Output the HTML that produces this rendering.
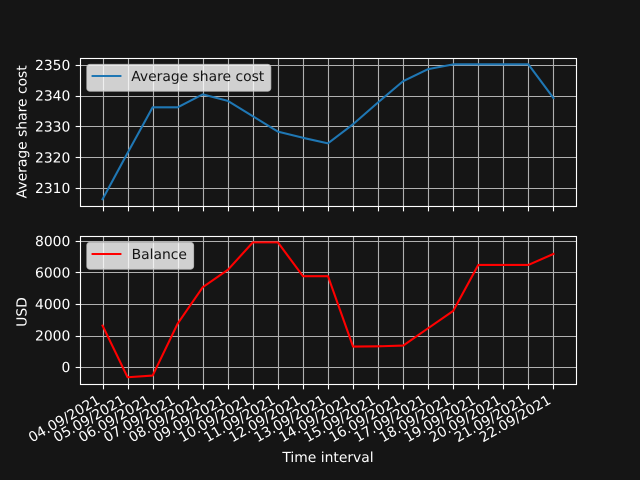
<!DOCTYPE html>
<html>
<head>
<meta charset="utf-8">
<title>Average share cost and balance</title>
<style>
html,body{margin:0;padding:0;background:#151515;}
svg{display:block;font-family:"DejaVu Sans",sans-serif;text-rendering:geometricPrecision;}
text{font-size:13.89px;fill:#fff;}
.legend-text{fill:#151515;}
</style>
</head>
<body>
<svg id="chart" width="640" height="480" viewBox="0 0 640 480" xmlns="http://www.w3.org/2000/svg">
  <rect width="640" height="480" fill="#151515"/>
  <g id="grid-layer"></g>
  <g id="series-layer"></g>
  <g id="tick-layer"></g>
  <g id="label-layer"></g>
  <g id="spine-layer"></g>

  <g>
    <rect x="87" y="64.6" width="183.6" height="26.4" rx="2.8" ry="2.8" fill="#fff" fill-opacity="0.8" stroke="#ccc" stroke-opacity="0.8" stroke-width="1.39"/>
    <line x1="92.6" y1="76" x2="120.4" y2="76" stroke="#1f77b4" stroke-width="2.08" stroke-linecap="square"/>
    <text class="legend-text" x="131.2" y="81">Average share cost</text>
  </g>
  <g>
    <rect x="87" y="242.6" width="106.4" height="26.4" rx="2.8" ry="2.8" fill="#fff" fill-opacity="0.8" stroke="#ccc" stroke-opacity="0.8" stroke-width="1.39"/>
    <line x1="92.6" y1="254" x2="120.4" y2="254" stroke="#f00" stroke-width="2.08" stroke-linecap="square"/>
    <text class="legend-text" x="131.6" y="259.2">Balance</text>
  </g>

  <text transform="translate(26.5,131.8) rotate(-90)" text-anchor="middle">Average share cost</text>
  <text transform="translate(26.5,312) rotate(-90)" text-anchor="middle">USD</text>
  <text x="328" y="462" text-anchor="middle">Time interval</text>
</svg>
<script>
const dateLabels = ["04.09/2021","05.09/2021","06.09/2021","07.09/2021","08.09/2021","09.09/2021","10.09/2021","11.09/2021","12.09/2021","13.09/2021","14.09/2021","15.09/2021","16.09/2021","17.09/2021","18.09/2021","19.09/2021","20.09/2021","21.09/2021","22.09/2021"];
const shareCostValues = [2306.36,2321.4,2336.2,2336.2,2340.4,2338.3,2333.3,2328.3,2326.3,2324.5,2330.7,2337.8,2344.7,2348.6,2350.15,2350.15,2350.15,2350.15,2339.2];
const balanceValues = [2633,-637,-530,2760,5063,6158,7900,7900,5760,5760,1304,1320,1367,2468,3563,6475,6475,6475,7170];
const shareCostTicks = [2310,2320,2330,2340,2350];
const balanceTicks = [0,2000,4000,6000,8000];

const NS = 'http://www.w3.org/2000/svg';
const plotLeft = 80, plotRight = 576;
const upperTop = 57.6, upperBottom = 205.96;
const lowerTop = 235.64, lowerBottom = 384;
const gridLayer = document.getElementById('grid-layer');
const seriesLayer = document.getElementById('series-layer');
const tickLayer = document.getElementById('tick-layer');
const labelLayer = document.getElementById('label-layer');
const spineLayer = document.getElementById('spine-layer');

function snap(v){ return Math.floor(v + 0.5) + 0.5; }
function xScale(i){
  const n = dateLabels.length - 1;
  const pad = (plotRight - plotLeft) / 1.1 * 0.05;
  return plotLeft + pad + i * ((plotRight - plotLeft) / 1.1) / n;
}
function yScaleFor(values, top, bottom){
  const lo = Math.min.apply(null, values), hi = Math.max.apply(null, values);
  const m = (hi - lo) * 0.05;
  return function(v){ return bottom - (v - (lo - m)) / ((hi + m) - (lo - m)) * (bottom - top); };
}
function makeLine(x1, y1, x2, y2, color, width){
  const l = document.createElementNS(NS, 'line');
  l.setAttribute('x1', x1);
  l.setAttribute('y1', y1);
  l.setAttribute('x2', x2);
  l.setAttribute('y2', y2);
  l.setAttribute('stroke', color);
  l.setAttribute('stroke-width', width);
  return l;
}
function makeText(str, anchor, transform){
  const t = document.createElementNS(NS, 'text');
  t.textContent = str;
  t.setAttribute('text-anchor', anchor);
  t.setAttribute('transform', transform);
  return t;
}

function drawAxes(values, ticks, top, bottom, color, prefix){
  const y = yScaleFor(values, top, bottom);
  const bottomSnap = snap(bottom);
  const topSnap = snap(top);

  dateLabels.forEach(function(label, i){
    const px = snap(xScale(i));
    const g = makeLine(px, topSnap, px, bottomSnap, '#b0b0b0', 1.11);
    
    
    gridLayer.appendChild(g);
    const t = makeLine(px, bottomSnap, px, bottomSnap + 4.86, '#fff', 1.11);
    
    
    tickLayer.appendChild(t);
  });

  ticks.forEach(function(v){
    const py = snap(y(v));
    const g = makeLine(plotLeft + 0.5, py, plotRight + 0.5, py, '#b0b0b0', 1.11);
    
    
    gridLayer.appendChild(g);
    const t = makeLine(plotLeft + 0.5 - 4.86, py, plotLeft + 0.5, py, '#fff', 1.11);
    
    
    tickLayer.appendChild(t);
    const lab = makeText(String(v), 'end', 'translate(70.3,' + (y(v) + 5.05) + ')');
    
    
    labelLayer.appendChild(lab);
  });

  const pts = values.map(function(v, i){ return xScale(i).toFixed(2) + ',' + y(v).toFixed(2); }).join(' ');
  const line = document.createElementNS(NS, 'polyline');
  line.setAttribute('points', pts);
  line.setAttribute('fill', 'none');
  line.setAttribute('stroke', color);
  line.setAttribute('stroke-width', 2.08);
  line.setAttribute('stroke-linecap', 'square');
  line.setAttribute('stroke-linejoin', 'round');
  
  
  seriesLayer.appendChild(line);

  const frame = document.createElementNS(NS, 'rect');
  frame.setAttribute('x', plotLeft + 0.5);
  frame.setAttribute('y', topSnap);
  frame.setAttribute('width', plotRight - plotLeft);
  frame.setAttribute('height', bottomSnap - topSnap);
  frame.setAttribute('fill', 'none');
  frame.setAttribute('stroke', '#fff');
  frame.setAttribute('stroke-width', 1.11);
  
  
  spineLayer.appendChild(frame);
}

drawAxes(shareCostValues, shareCostTicks, upperTop, upperBottom, '#1f77b4', 'share-cost');
drawAxes(balanceValues, balanceTicks, lowerTop, lowerBottom, '#f00', 'balance');

dateLabels.forEach(function(label, i){
  const bx = xScale(i) - 1.5;
  const by = 402.8;
  const lab = makeText(label, 'end', 'translate(' + bx.toFixed(2) + ',' + by + ') rotate(-30)');
  
  
  labelLayer.appendChild(lab);
});
</script>
</body>
</html>
